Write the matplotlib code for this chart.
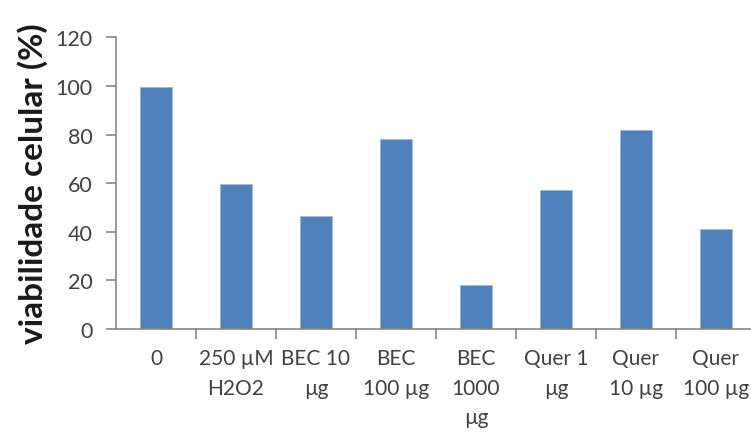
import matplotlib.pyplot as plt
import numpy as np

plt.rcParams['font.family'] = ['Lato', 'DejaVu Sans']

# viabilidade celular por tratamento
grupos = ["0", "250 µM\nH2O2", "BEC 10\nµg", "BEC\n100 µg", "BEC\n1000\nµg",
          "Quer 1\nµg", "Quer\n10 µg", "Quer\n100 µg"]
viabilidade = [99.5, 59.5, 46.5, 78.0, 18.1, 57.3, 81.8, 41.2]

cinza = "#868686"
texto = "#404040"

fig = plt.figure(figsize=(7.51, 4.35), dpi=100)
ax = fig.add_axes([0.1545, 0.2414, 0.852, 0.6706])

x = np.arange(len(grupos))
ax.bar(x, viabilidade, width=0.4, color="#4f81bd", edgecolor="#9db7d8", linewidth=0.5, zorder=2)

ax.set_xlim(-0.5, len(grupos) - 0.5)
ax.set_ylim(0, 120)
ax.set_yticks(np.arange(0, 121, 20))

# ticks entre categorias no eixo x
ax.set_xticks(np.arange(0.5, len(grupos) - 0.5, 1))
ax.set_xticklabels([])
ax.set_xticks(x, minor=True)
ax.set_xticklabels(grupos, minor=True, linespacing=1.58, va="top")
ax.tick_params(axis="x", which="minor", length=0, pad=14, labelsize=15, labelcolor=texto)
ax.tick_params(axis="x", which="major", length=7, width=1.2, color=cinza, direction="out")
ax.tick_params(axis="y", length=7, width=1.2, color=cinza, direction="out",
               labelsize=15.5, labelcolor=texto, pad=10)

for s in ["top", "right"]:
    ax.spines[s].set_visible(False)
for s in ["left", "bottom"]:
    ax.spines[s].set_color(cinza)
    ax.spines[s].set_linewidth(1.2)

ax.set_ylabel("viabilidade celular (%)", fontsize=24, fontweight="bold", color="#1a1a1a", labelpad=5)

fig.savefig("out.png", dpi=100)
